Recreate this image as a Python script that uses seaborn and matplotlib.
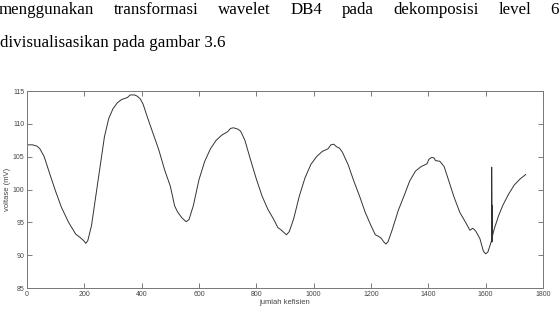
import numpy as np
import pandas as pd
import matplotlib
matplotlib.use("Agg")
import matplotlib.pyplot as plt
import seaborn as sns

# ---- data ----
x_coef = [0, 20, 35, 45, 60, 80, 100, 120, 145, 170, 185, 198, 205, 212, 225, 240, 255, 270, 285, 300,
          315, 330, 350, 360, 375, 385, 395, 405, 420, 440, 460, 480, 500, 515, 525, 540, 555, 565, 580, 600,
          620, 640, 660, 680, 700, 710, 720, 735, 745, 760, 780, 800, 820, 840, 860, 875, 885, 895, 905, 915,
          930, 950, 970, 990, 1010, 1030, 1050, 1060, 1070, 1080, 1090, 1100, 1120, 1140, 1160, 1180, 1200, 1215, 1225, 1235,
          1245, 1252, 1260, 1275, 1295, 1315, 1335, 1355, 1375, 1395, 1402, 1412, 1420, 1425, 1440, 1455, 1470, 1490, 1510, 1530,
          1545, 1555, 1565, 1580, 1592, 1600, 1608, 1616, 1621, 1621, 1622, 1623, 1624, 1630, 1645, 1660, 1680, 1700, 1720, 1740]
voltase = [106.8, 106.8, 106.6, 106.2, 105.0, 102.3, 99.7, 97.3, 95.0, 93.2, 92.7, 92.2, 91.8, 92.2, 94.5, 99.0, 103.5, 108.0, 110.8, 112.3,
           113.2, 113.7, 114.0, 114.4, 114.4, 114.2, 113.8, 113.0, 111.0, 108.5, 106.0, 103.0, 100.5, 97.5, 96.6, 95.7, 95.1, 95.4, 97.5, 101.5,
           104.3, 106.2, 107.5, 108.3, 108.8, 109.3, 109.4, 109.2, 108.9, 107.5, 104.5, 101.6, 99.0, 97.0, 95.5, 94.2, 93.9, 93.5, 93.1, 93.6,
           95.5, 99.0, 101.8, 103.8, 105.0, 105.8, 106.2, 106.8, 106.9, 106.5, 106.3, 105.7, 103.8, 101.3, 99.0, 96.5, 94.5, 93.1, 92.9, 92.6,
           92.0, 91.7, 92.1, 94.0, 96.8, 99.0, 101.3, 102.8, 103.5, 103.9, 104.6, 104.9, 104.8, 104.4, 104.3, 103.5, 101.5, 98.8, 96.5, 95.0,
           93.8, 94.1, 93.7, 92.5, 90.6, 90.2, 90.5, 91.6, 92.3, 103.4, 92.0, 97.6, 93.0, 94.0, 96.0, 97.6, 99.3, 100.7, 101.6, 102.3]

x_ticks = [0, 200, 400, 600, 800, 1000, 1200, 1400, 1600, 1800]
y_ticks = [85, 90, 95, 100, 105, 110, 115]
x_label = "jumlah kefisien"
y_label = "voltase (mV)"
line1_words = ["menggunakan", "transformasi", "wavelet", "DB4", "pada", "dekomposisi", "level", "6"]
line2 = "divisualisasikan pada gambar 3.6"

df = pd.DataFrame({"x": x_coef, "y": voltase})

sns.set_style("ticks")
plt.rcParams["font.family"] = ["Liberation Sans", "DejaVu Sans"]

W, H = 559, 312
fig = plt.figure(figsize=(W / 100, H / 100), dpi=100)
fig.patch.set_facecolor("white")

ax = fig.add_axes([27 / W, 1 - 288 / H, (543 - 27) / W, (288 - 91) / H])
sns.lineplot(data=df, x="x", y="y", estimator=None, sort=False, color="#333333", linewidth=0.7, ax=ax)
ax.set_xlim(0, 1800)
ax.set_ylim(85, 115)
ax.set_xticks(x_ticks)
ax.set_yticks(y_ticks)
ax.set_xticklabels([str(v) for v in x_ticks], fontsize=5, color="#444444")
ax.set_yticklabels([str(v) for v in y_ticks], fontsize=5, color="#444444")
ax.tick_params(direction="in", length=3.5, width=0.6, color="#666666", top=True, right=True, pad=2)
for s in ax.spines.values():
    s.set_visible(True)
    s.set_color("#777777")
    s.set_linewidth(0.7)
ax.set_xlabel(x_label, fontsize=5.5, color="#444444", labelpad=1)
ax.set_ylabel(y_label, fontsize=5.5, color="#444444", labelpad=1)

# ---- document text above the chart (justified first line) ----
serif = ["Liberation Serif", "DejaVu Serif"]
fs = 11
fig.canvas.draw()
r = fig.canvas.get_renderer()
t2 = fig.text(0, 1 - 47 / H, line2, fontsize=fs, family=serif, color="black", va="baseline", ha="left")
w2 = t2.get_window_extent(r).width
fs = fs * 223.0 / w2
t2.set_fontsize(fs)

widths = []
tmp = []
for w in line1_words:
    t = fig.text(0, 0, w, fontsize=fs, family=serif)
    tmp.append(t)
for t in tmp:
    widths.append(t.get_window_extent(r).width)
    t.remove()
left, right = -1.0, 559.0
gap = (right - left - sum(widths)) / (len(line1_words) - 1)
xpos = left
for w, wd in zip(line1_words, widths):
    fig.text(xpos / W, 1 - 14 / H, w, fontsize=fs, family=serif, color="black", va="baseline", ha="left")
    xpos += wd + gap

fig.savefig("out.png", dpi=100, facecolor="white")
